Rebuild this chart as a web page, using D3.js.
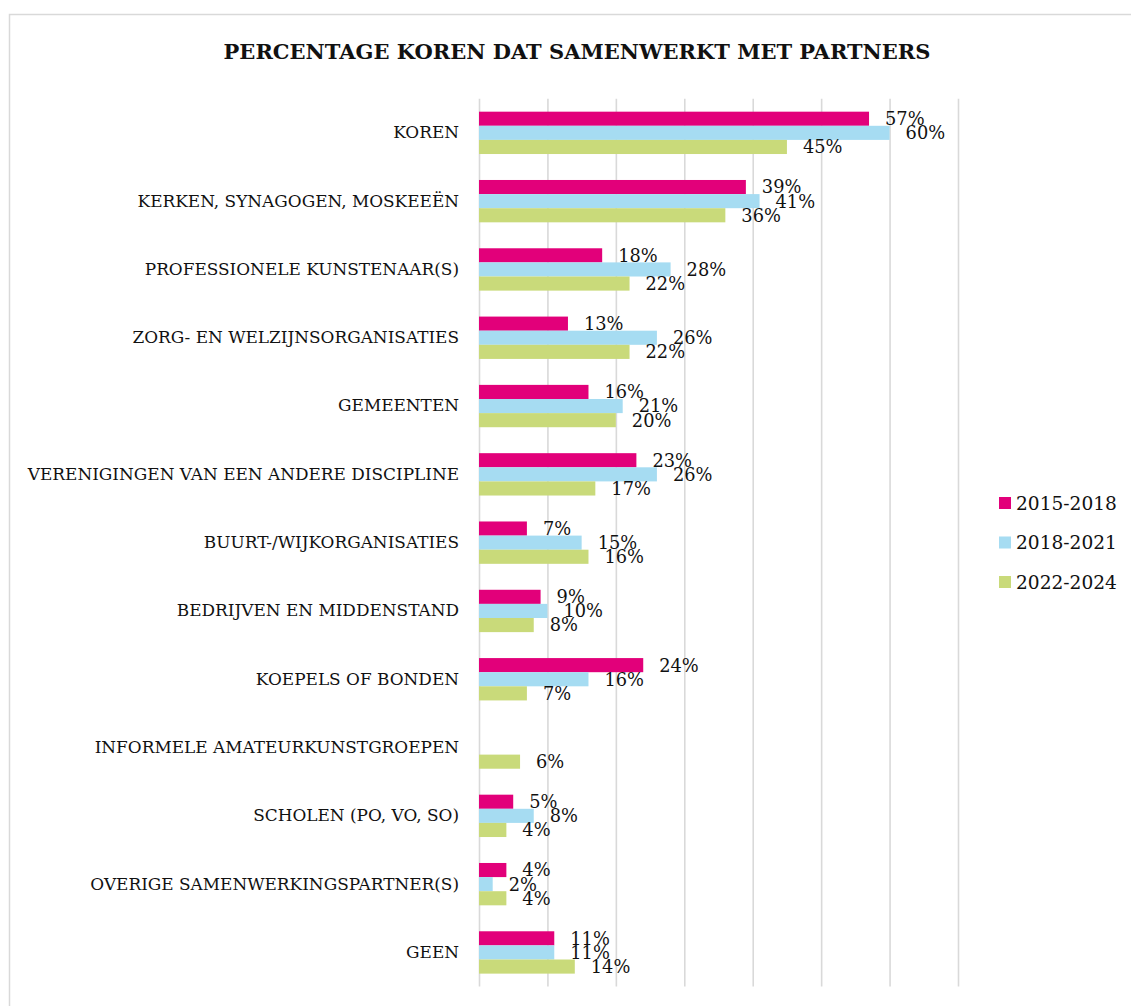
<!DOCTYPE html>
<html>
<head>
<meta charset="utf-8">
<script src="https://cdn.jsdelivr.net/npm/d3@7"></script>
<style>
  body { margin: 0; background: #fff; }
  text { font-family: "DejaVu Serif", serif; fill: #111; }
</style>
</head>
<body>
<script>
const width = 1131
const height = 1006
const margin = ({top: 98.7, right: 173, bottom: 19.4, left: 479})

const categories = [
  "KOREN",
  "KERKEN, SYNAGOGEN, MOSKEEËN",
  "PROFESSIONELE KUNSTENAAR(S)",
  "ZORG- EN WELZIJNSORGANISATIES",
  "GEMEENTEN",
  "VERENIGINGEN VAN EEN ANDERE DISCIPLINE",
  "BUURT-/WIJKORGANISATIES",
  "BEDRIJVEN EN MIDDENSTAND",
  "KOEPELS OF BONDEN",
  "INFORMELE AMATEURKUNSTGROEPEN",
  "SCHOLEN (PO, VO, SO)",
  "OVERIGE SAMENWERKINGSPARTNER(S)",
  "GEEN"
]
const seriesNames = ["2015-2018", "2018-2021", "2022-2024"]
const v2015 = [57, 39, 18, 13, 16, 23, 7, 9, 24, null, 5, 4, 11]
const v2018 = [60, 41, 28, 26, 21, 26, 15, 10, 16, null, 8, 2, 11]
const v2022 = [45, 36, 22, 22, 20, 17, 16, 8, 7, 6, 4, 4, 14]
const ticks = [0, 10, 20, 30, 40, 50, 60, 70]
const colors = ["#e2007a", "#a6dcf2", "#c9da7a"]

const values = [v2015, v2018, v2022]

const svg = d3.select("body").append("svg")
    .attr("width", width)
    .attr("height", height)

// outer chart frame
svg.append("rect")
    .attr("x", 9.5).attr("y", 14.5)
    .attr("width", width + 20).attr("height", height + 20)
    .attr("fill", "none")
    .attr("stroke", "#d9d9d9")
    .attr("stroke-width", 1.5)

svg.append("text")
    .attr("x", 577).attr("y", 59)
    .attr("text-anchor", "middle")
    .attr("font-weight", "bold")
    .attr("font-size", 21)
    .text("PERCENTAGE KOREN DAT SAMENWERKT MET PARTNERS")

const x = d3.scaleLinear()
    .domain([0, 70])
    .range([margin.left, width - margin.right])

const y = d3.scaleBand()
    .domain(categories)
    .range([margin.top, height - margin.bottom])
    .paddingInner(0.38)
    .paddingOuter(0.19)

const ySub = d3.scaleBand()
    .domain(seriesNames)
    .range([0, y.bandwidth()])

// vertical gridlines
svg.append("g")
    .attr("transform", `translate(0,${height - margin.bottom})`)
    .call(d3.axisBottom(x).tickValues(ticks)
        .tickSize(-(height - margin.bottom - margin.top)).tickFormat(""))
    .call(g => g.select(".domain").remove())
    .call(g => g.selectAll(".tick line")
        .attr("stroke", "#d9d9d9").attr("stroke-width", 1.6))

// category labels
svg.append("g")
    .attr("transform", `translate(${margin.left},0)`)
    .call(d3.axisLeft(y).tickSize(0).tickPadding(20))
    .call(g => g.select(".domain").remove())
    .call(g => g.selectAll("text")
        .attr("font-family", "DejaVu Serif, serif")
        .attr("font-size", 16.9)
        .attr("fill", "#111"))

const rows = []
categories.forEach((c, i) => {
  seriesNames.forEach((s, j) => {
    if (values[j][i] != null) rows.push({cat: c, series: s, idx: j, value: values[j][i]})
  })
})

svg.append("g")
    .selectAll("rect")
    .data(rows)
    .join("rect")
      .attr("x", x(0))
      .attr("y", d => y(d.cat) + ySub(d.series))
      .attr("width", d => x(d.value) - x(0))
      .attr("height", ySub.bandwidth())
      .attr("fill", d => colors[d.idx])

svg.append("g")
    .selectAll("text")
    .data(rows)
    .join("text")
      .attr("x", d => x(d.value) + 16)
      .attr("y", d => y(d.cat) + ySub(d.series) + ySub.bandwidth() / 2)
      .attr("dy", "0.36em")
      .attr("font-size", 17.8)
      .text(d => d.value + "%")

// legend
const legend = svg.append("g")
    .selectAll("g")
    .data(seriesNames)
    .join("g")
      .attr("transform", (d, i) => `translate(999,${503 + i * 39.5})`)

legend.append("rect")
    .attr("x", 0).attr("y", -6)
    .attr("width", 12).attr("height", 12)
    .attr("fill", (d, i) => colors[i])

legend.append("text")
    .attr("x", 17)
    .attr("dy", "0.36em")
    .attr("font-size", 18.6)
    .text(d => d)
</script>
</body>
</html>
